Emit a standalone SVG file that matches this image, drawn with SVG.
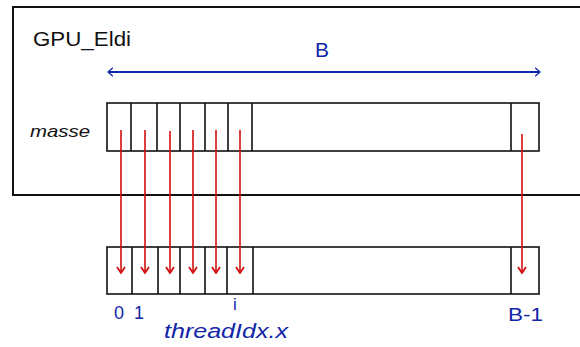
<svg xmlns="http://www.w3.org/2000/svg" width="580" height="347" viewBox="0 0 580 347">
<style>
.box{fill:none;stroke:#111;stroke-width:2}
.cell{fill:none;stroke:#111;stroke-width:1.6}
.red{stroke:#d40f0f;stroke-width:1.6;fill:none}
.blue{stroke:#1226a8;stroke-width:2;fill:none}
.t{font-family:"Liberation Sans",Arial,sans-serif}
.bt{font-family:"Liberation Sans",Arial,sans-serif;fill:#1226a8}
</style>
<defs>
<marker id="ra" viewBox="0 0 10 10" refX="9" refY="5" markerWidth="10" markerHeight="10" markerUnits="userSpaceOnUse" orient="auto">
<path d="M3,1 L9,5 L3,9" fill="none" stroke="#d40f0f" stroke-width="1.8"/>
</marker>
<marker id="ba" viewBox="0 0 10 16" refX="9" refY="8" markerWidth="6" markerHeight="12" markerUnits="userSpaceOnUse" orient="auto-start-reverse">
<path d="M1,1 L9,8 L1,15" fill="none" stroke="#1226a8" stroke-width="2"/>
</marker>
</defs>
<rect width="580" height="347" fill="#fff"/>
<g id="gpu">
<path class="box" d="M600,7 L13,7 L13,195 L600,195"/>
<text class="t" x="33" y="46" font-size="21" fill="#111" textLength="98" lengthAdjust="spacingAndGlyphs">GPU_Eldi</text>
</g>
<g id="masse">
<text class="t" x="30" y="137" font-size="17" font-style="italic" fill="#111" textLength="60" lengthAdjust="spacingAndGlyphs">masse</text>
<rect class="cell" x="107" y="103" width="432" height="48"/>
<path class="cell" d="M131,103V151M157,103V151M180,103V151M205,103V151M228,103V151M252,103V151M511,103V151"/>
</g>
<g id="threads">
<rect class="cell" x="107" y="247" width="432" height="47"/>
<path class="cell" d="M132,247V294M158,247V294M180,247V294M205,247V294M227,247V294M253,247V294M511,247V294"/>
<text class="bt" x="114" y="319" font-size="18">0</text>
<text class="bt" x="134" y="319" font-size="18">1</text>
<text class="bt" x="233" y="310" font-size="17">i</text>
<text class="bt" x="164" y="338" font-size="20" font-style="italic" textLength="124" lengthAdjust="spacingAndGlyphs">threadIdx.x</text>
<text class="bt" x="508" y="321" font-size="19" textLength="35" lengthAdjust="spacingAndGlyphs">B-1</text>
</g>
<g id="size">
<text class="bt" x="315" y="57" font-size="21">B</text>
</g>
<g id="connectors">
<path class="blue" d="M108,72 H540" marker-start="url(#ba)" marker-end="url(#ba)"/>
<path class="red" d="M121,130V273" marker-end="url(#ra)"/>
<path class="red" d="M145,130V273" marker-end="url(#ra)"/>
<path class="red" d="M170,131V273" marker-end="url(#ra)"/>
<path class="red" d="M193,130V273" marker-end="url(#ra)"/>
<path class="red" d="M216,130V273" marker-end="url(#ra)"/>
<path class="red" d="M240,130V273" marker-end="url(#ra)"/>
<path class="red" d="M522,134V273" marker-end="url(#ra)"/>
</g>
</svg>
